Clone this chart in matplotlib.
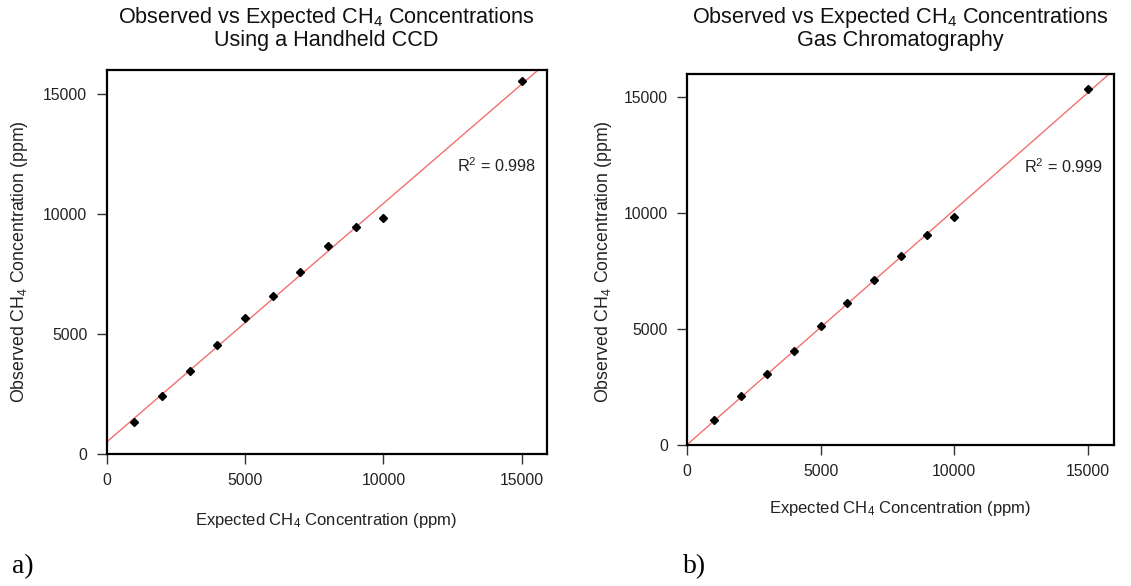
import numpy as np
import matplotlib
matplotlib.use("Agg")
import matplotlib.pyplot as plt

plt.rcParams['font.family'] = ['Liberation Sans', 'DejaVu Sans']
plt.rcParams['mathtext.fontset'] = 'custom'
plt.rcParams['mathtext.rm'] = 'Liberation Sans'
plt.rcParams['mathtext.it'] = 'Liberation Sans:italic'
plt.rcParams['mathtext.bf'] = 'Liberation Sans:bold'

# Data
expected = [1000, 2000, 3000, 4000, 5000, 6000, 7000, 8000, 9000, 10000, 15000]
observed_ccd = [1334, 2426, 3478, 4533, 5654, 6593, 7565, 8671, 9460, 9850, 15526]
observed_gc = [1058, 2094, 3044, 4037, 5130, 6123, 7116, 8169, 9059, 9836, 15350]
r2_labels = ["R$^2$ = 0.998", "R$^2$ = 0.999"]
titles = ["Observed vs Expected CH$_4$ Concentrations\nUsing a Handheld CCD",
          "Observed vs Expected CH$_4$ Concentrations\nGas Chromatography"]
ticks = [0, 5000, 10000, 15000]
panel_labels = ["a)", "b)"]

W, H = 1131, 586
fig = plt.figure(figsize=(W / 100, H / 100), dpi=100)

def frac_box(x0, x1, ytop, ybot):
    return [x0 / W, (H - ybot) / H, (x1 - x0) / W, (ybot - ytop) / H]

axes_boxes = [frac_box(106.7, 546.7, 70, 454), frac_box(687.3, 1114.3, 74, 445)]
xlims = [(0, 15900), (0, 16000)]
series = [observed_ccd, observed_gc]
title_x = [326, 900]
ylabel_x = [20, 603]
xlabel_y = [520, 509]
panel_x = [12, 683]

for i in range(2):
    ax = fig.add_axes(axes_boxes[i])
    ys = series[i]
    slope, intercept = np.polyfit(expected, ys, 1)
    ax.axline((0, intercept), slope=slope, color='#f37070', lw=1.0, zorder=2)
    ax.plot(expected, ys, linestyle='none', marker='D', markersize=4.3,
            color='black', zorder=3)
    ax.set_xlim(*xlims[i])
    ax.set_ylim(0, 16000)
    ax.set_xticks(ticks)
    ax.set_yticks(ticks)
    ax.tick_params(direction='out', length=7, width=1, labelsize=11.3,
                   color='#333333', labelcolor='#222222', pad=7)
    for s in ax.spines.values():
        s.set_linewidth(1.6)
        s.set_color('black')
    ax.text(14100, 12000, r2_labels[i], ha='center', va='center',
            fontsize=11.7, color='#222222')
    fig.text(title_x[i] / W, 1 - 28 / H, titles[i], ha='center', va='center',
             fontsize=15.6, color='#111111', linespacing=1.05)
    fig.text(ylabel_x[i] / W, 1 - 262 / H,
             "Observed CH$_4$ Concentration (ppm)", rotation=90,
             ha='center', va='center', fontsize=12.8, color='#222222')
    fig.text(title_x[i] / W, 1 - xlabel_y[i] / H,
             "Expected CH$_4$ Concentration (ppm)",
             ha='center', va='center', fontsize=12, color='#222222')
    fig.text(panel_x[i] / W, 1 - 567 / H, panel_labels[i], ha='left',
             va='center', fontsize=20, family='Liberation Serif', color='black')

fig.savefig("out.png", dpi=100)
